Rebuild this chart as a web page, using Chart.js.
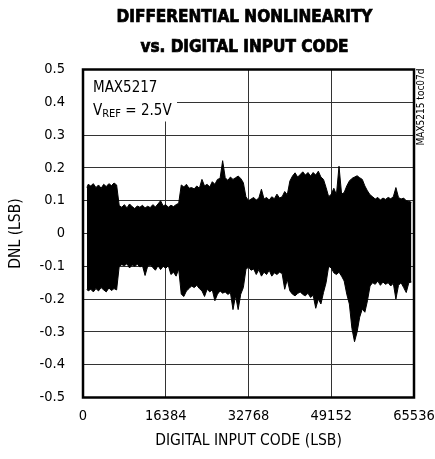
<!DOCTYPE html>
<html lang="en">
<head>
    <meta charset="UTF-8">
    <title>DNL vs. Digital Input Code</title>
    <style>
        body {
            margin: 0;
            padding: 0;
            background: #fff;
        }

        .chart-container {
            width: 435px;
            height: 459px;
        }
    </style>
</head>
<body>
    <div class="chart-container">
        <canvas id="dnlChart" width="435" height="459"></canvas>
    </div>

    <script src="https://cdn.jsdelivr.net/npm/chart.js"></script>

    <script>
        // Input codes where the DNL band is sampled (LSB)
        const codes = [
            768, 1024, 1536, 2048, 2560, 3072, 3584, 4096, 4608, 5120, 5632, 6144, 6656,
            7168, 7680, 8192, 8704, 9216, 9728, 10240, 10752, 11264, 11776, 12288, 12800,
            13312, 13824, 14336, 14848, 15360, 15872, 16384, 16896, 17408, 17920, 18432,
            18944, 19456, 19968, 20480, 20992, 21504, 22016, 22528, 23040, 23552, 24064,
            24576, 25088, 25600, 26112, 26624, 27136, 27648, 28160, 28672, 29184, 29696,
            30208, 30720, 31232, 31744, 32256, 32768, 33280, 33792, 34304, 34816, 35328,
            35840, 36352, 36864, 37376, 37888, 38400, 38912, 39424, 39936, 40448, 40960,
            41472, 41984, 42496, 43008, 43520, 44032, 44544, 45056, 45568, 46080, 46592,
            47104, 47616, 48128, 48640, 49152, 49664, 50176, 50688, 51200, 51712, 52224,
            52736, 53248, 53760, 54272, 54784, 55296, 55808, 56320, 56832, 57344, 57856,
            58368, 58880, 59392, 59904, 60416, 60928, 61440, 61952, 62464, 62976, 63488,
            64000, 64512, 65024
        ];

        // Upper edge of the DNL band (LSB)
        const dnlMax = [
            0.140, 0.150, 0.145, 0.152, 0.140, 0.148, 0.138, 0.150, 0.143, 0.152, 0.146, 0.154, 0.148,
            0.085, 0.080, 0.088, 0.078, 0.090, 0.082, 0.076, 0.084, 0.080, 0.086, 0.078, 0.083,
            0.079, 0.088, 0.081, 0.090, 0.100, 0.084, 0.088, 0.080, 0.086, 0.082, 0.088,
            0.092, 0.148, 0.142, 0.150, 0.138, 0.140, 0.136, 0.145, 0.138, 0.165, 0.145,
            0.150, 0.142, 0.158, 0.150, 0.165, 0.168, 0.222, 0.170, 0.162, 0.172, 0.165,
            0.170, 0.175, 0.168, 0.155, 0.112, 0.100, 0.105, 0.110, 0.102, 0.108, 0.135,
            0.105, 0.110, 0.102, 0.112, 0.106, 0.120, 0.108, 0.112, 0.128, 0.118, 0.160,
            0.175, 0.185, 0.172, 0.180, 0.188, 0.178, 0.186, 0.175, 0.186, 0.178, 0.190,
            0.172, 0.165, 0.140, 0.112, 0.120, 0.138, 0.118, 0.205, 0.120, 0.125, 0.145,
            0.160, 0.168, 0.172, 0.176, 0.170, 0.165, 0.145, 0.130, 0.118, 0.112, 0.105,
            0.110, 0.102, 0.108, 0.104, 0.110, 0.106, 0.112, 0.140, 0.110, 0.105, 0.108,
            0.100, 0.098, 0.095
        ];

        // Lower edge of the DNL band (LSB)
        const dnlMin = [
            -0.170, -0.175, -0.170, -0.178, -0.168, -0.175, -0.165, -0.172, -0.178, -0.166, -0.174, -0.168, -0.172,
            -0.100, -0.095, -0.098, -0.092, -0.105, -0.096, -0.100, -0.094, -0.102, -0.098, -0.128, -0.100,
            -0.096, -0.104, -0.112, -0.098, -0.110, -0.100, -0.106, -0.098, -0.125, -0.118, -0.130,
            -0.108, -0.185, -0.192, -0.175, -0.168, -0.160, -0.165, -0.158, -0.168, -0.175, -0.192,
            -0.170, -0.178, -0.172, -0.205, -0.185, -0.175, -0.182, -0.178, -0.186, -0.180, -0.232,
            -0.190, -0.232, -0.185, -0.165, -0.110, -0.102, -0.112, -0.108, -0.125, -0.110, -0.130,
            -0.118, -0.125, -0.112, -0.130, -0.120, -0.125, -0.118, -0.122, -0.170, -0.140, -0.175,
            -0.185, -0.190, -0.183, -0.178, -0.186, -0.190, -0.182, -0.195, -0.188, -0.228, -0.200,
            -0.215, -0.180, -0.150, -0.100, -0.105, -0.120, -0.125, -0.118, -0.130, -0.145, -0.185,
            -0.215, -0.290, -0.330, -0.300, -0.255, -0.230, -0.240, -0.205, -0.160, -0.150, -0.155,
            -0.145, -0.158, -0.148, -0.155, -0.150, -0.160, -0.152, -0.200, -0.158, -0.150, -0.165,
            -0.180, -0.150, -0.148
        ];

        const xTicks = [0, 16384, 32768, 49152, 65536];
        const titleLines = ['DIFFERENTIAL NONLINEARITY', 'vs. DIGITAL INPUT CODE'];

        const NARROW = "'Liberation Sans Narrow', 'DejaVu Sans Condensed', sans-serif";

        // heading centred over the plot, note box, frame and side tag
        const notesPlugin = {
            id: 'notes',
            beforeDatasetsDraw(chart) {
                const ctx = chart.ctx;
                const a = chart.chartArea;
                ctx.save();
                ctx.fillStyle = '#fff';
                ctx.fillRect(a.left, a.top, 94, 52);
                ctx.fillStyle = '#000';
                ctx.textBaseline = 'alphabetic';
                ctx.textAlign = 'left';
                ctx.font = '15px ' + NARROW;
                ctx.fillText('MAX5217', a.left + 10, a.top + 22);
                let x = a.left + 10;
                const base = a.top + 45;
                ctx.fillText('V', x, base);
                x += ctx.measureText('V').width;
                ctx.font = '11px ' + NARROW;
                ctx.fillText('REF', x, base + 2);
                x += ctx.measureText('REF').width;
                ctx.font = '15px ' + NARROW;
                ctx.fillText(' = 2.5V', x, base);
                ctx.restore();
            },
            afterDatasetsDraw(chart) {
                const ctx = chart.ctx;
                const a = chart.chartArea;
                ctx.save();
                ctx.strokeStyle = '#000';
                ctx.lineWidth = 2.5;
                ctx.strokeRect(a.left, a.top, a.right - a.left, a.bottom - a.top);

                // heading
                const cx = (a.left + a.right) / 2 - 4;
                ctx.font = 'bold 17px ' + NARROW;
                ctx.textAlign = 'center';
                ctx.textBaseline = 'middle';
                ctx.fillStyle = '#000';
                ctx.lineWidth = 0.7;
                titleLines.forEach((line, i) => {
                    const y = 17.5 + i * 30;
                    ctx.fillText(line, cx, y);
                    ctx.strokeText(line, cx, y);
                });

                // rotated figure tag on the right margin
                ctx.translate(a.right + 7, a.top - 1);
                ctx.rotate(-Math.PI / 2);
                ctx.font = '10px ' + NARROW;
                ctx.textAlign = 'right';
                ctx.textBaseline = 'middle';
                ctx.fillText('MAX5215 toc07d', 0, 0);
                ctx.restore();
            }
        };

        const ctx = document.getElementById('dnlChart').getContext('2d');
        const dnlChart = new Chart(ctx, {
            type: 'line',
            data: {
                datasets: [{
                    label: 'DNL min',
                    data: codes.map((c, i) => ({ x: c, y: dnlMin[i] })),
                    borderColor: '#000',
                    borderWidth: 1,
                    pointRadius: 0,
                    fill: false
                }, {
                    label: 'DNL max',
                    data: codes.map((c, i) => ({ x: c, y: dnlMax[i] })),
                    borderColor: '#000',
                    backgroundColor: '#000',
                    borderWidth: 1,
                    pointRadius: 0,
                    fill: '-1'
                }]
            },
            options: {
                responsive: false,
                animation: false,
                layout: {
                    padding: { left: 0, right: 21, top: 69.5, bottom: 0 }
                },
                plugins: {
                    legend: { display: false },
                    tooltip: { enabled: false },
                    title: { display: false }
                },
                scales: {
                    x: {
                        type: 'linear',
                        min: 0,
                        max: 65536,
                        afterFit: (s) => {
                            s.height = 61.5;
                            s.paddingLeft = 0;
                            s.paddingRight = 0;
                        },
                        afterBuildTicks: (s) => { s.ticks = xTicks.map(v => ({ value: v })); },
                        grid: { color: '#333', lineWidth: 1, drawTicks: false },
                        border: { display: false },
                        ticks: {
                            color: '#000',
                            padding: 10,
                            autoSkip: false,
                            maxRotation: 0,
                            font: { family: NARROW, size: 14.5 },
                            callback: (v) => String(v)
                        },
                        title: {
                            display: true,
                            text: 'DIGITAL INPUT CODE (LSB)',
                            color: '#000',
                            font: { family: NARROW, size: 15.5 },
                            padding: { top: 0, bottom: 9 }
                        }
                    },
                    y: {
                        min: -0.5,
                        max: 0.5,
                        afterFit: (s) => {
                            s.width = 83;
                            s.paddingTop = 0;
                            s.paddingBottom = 0;
                        },
                        grid: { color: '#333', lineWidth: 1, drawTicks: false },
                        border: { display: false },
                        ticks: {
                            color: '#000',
                            stepSize: 0.1,
                            padding: 18,
                            font: { family: NARROW, size: 14.5 },
                            callback: (v) => Math.abs(v) < 1e-9 ? '0' : v.toFixed(1)
                        },
                        title: {
                            display: true,
                            text: 'DNL (LSB)',
                            color: '#000',
                            font: { family: NARROW, size: 15.5 },
                            padding: { top: 7, bottom: 0 }
                        }
                    }
                }
            },
            plugins: [notesPlugin]
        });
    </script>
</body>
</html>
